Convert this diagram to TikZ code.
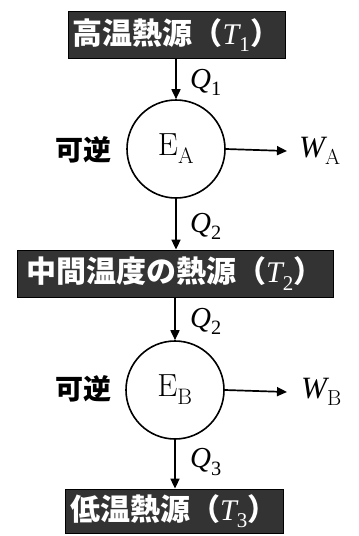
\documentclass[tikz,border=0pt]{standalone}
\usepackage{fontspec}
\usepackage{unicode-math}
\setmathfont{Latin Modern Math}
\setmathfont{Liberation Serif}[range={up/{Latin,latin,num}}]
\setmathfont{Liberation Serif Italic}[range={it/{Latin,latin}}]
\newfontfamily\cjk{Noto Sans CJK JP}
\usetikzlibrary{arrows.meta}
\begin{document}
\begin{tikzpicture}[x=1pt,y=-1pt,
  src/.style={fill=black!80, draw=black, line width=0.8pt, text=white,
    font=\cjk\bfseries\fontsize{30}{34}\selectfont, inner sep=0pt, minimum height=47pt},
  eng/.style={circle, draw, line width=1.6pt, minimum size=98pt, inner sep=0pt,
    font=\fontsize{32}{36}\selectfont},
  arr/.style={line width=1.7pt, -{Triangle[length=10pt,width=9pt]}},
  lbl/.style={font=\fontsize{29}{33}\selectfont, anchor=west, inner sep=0pt},
  wlbl/.style={font=\fontsize{31}{35}\selectfont, anchor=west, inner sep=0pt},
  rev/.style={font=\cjk\bfseries\fontsize{28}{32}\selectfont, inner sep=0pt}]
\useasboundingbox (0,0) rectangle (359,536);
\node[src, minimum width=217pt] (H) at (176.5,35) {高温熱源（$T_1$）};
\node[src, minimum width=316pt] (M) at (175,273.5) {中間温度の熱源（$T_2$）};
\node[src, minimum width=218pt, minimum height=44pt] (L) at (174,511) {低温熱源（$T_3$）};
\node[eng] (A) at (176,149) {$\mathrm{E}_{\mathrm{A}}$};
\node[eng] (B) at (175,390) {$\mathrm{E}_{\mathrm{B}}$};
\node[rev] (rA) at (84,150) {可逆};
\node[rev] (rB) at (84,389) {可逆};
\node[wlbl] (WA) at (299,151) {$W_{\mathrm{A}}$};
\node[wlbl] (WB) at (301,392) {$W_{\mathrm{B}}$};
\draw[arr] (A.north |- H.south) -- (A.north);
\draw[arr] (A.south) -- (A.south |- M.north);
\draw[arr] (B.north |- M.south) -- (B.north);
\draw[arr] (B.south) -- (B.south |- L.north);
\draw[arr] (A.east) -- (WA.west -| 287,0);
\draw[arr] (B.east) -- (WB.west -| 287,0);
\node[lbl] (Q1) at (190,82) {$Q_1$};
\node[lbl] (Q2a) at (190,226) {$Q_2$};
\node[lbl] (Q2b) at (190,321) {$Q_2$};
\node[lbl] (Q3) at (190,462) {$Q_3$};
\end{tikzpicture}
\end{document}
